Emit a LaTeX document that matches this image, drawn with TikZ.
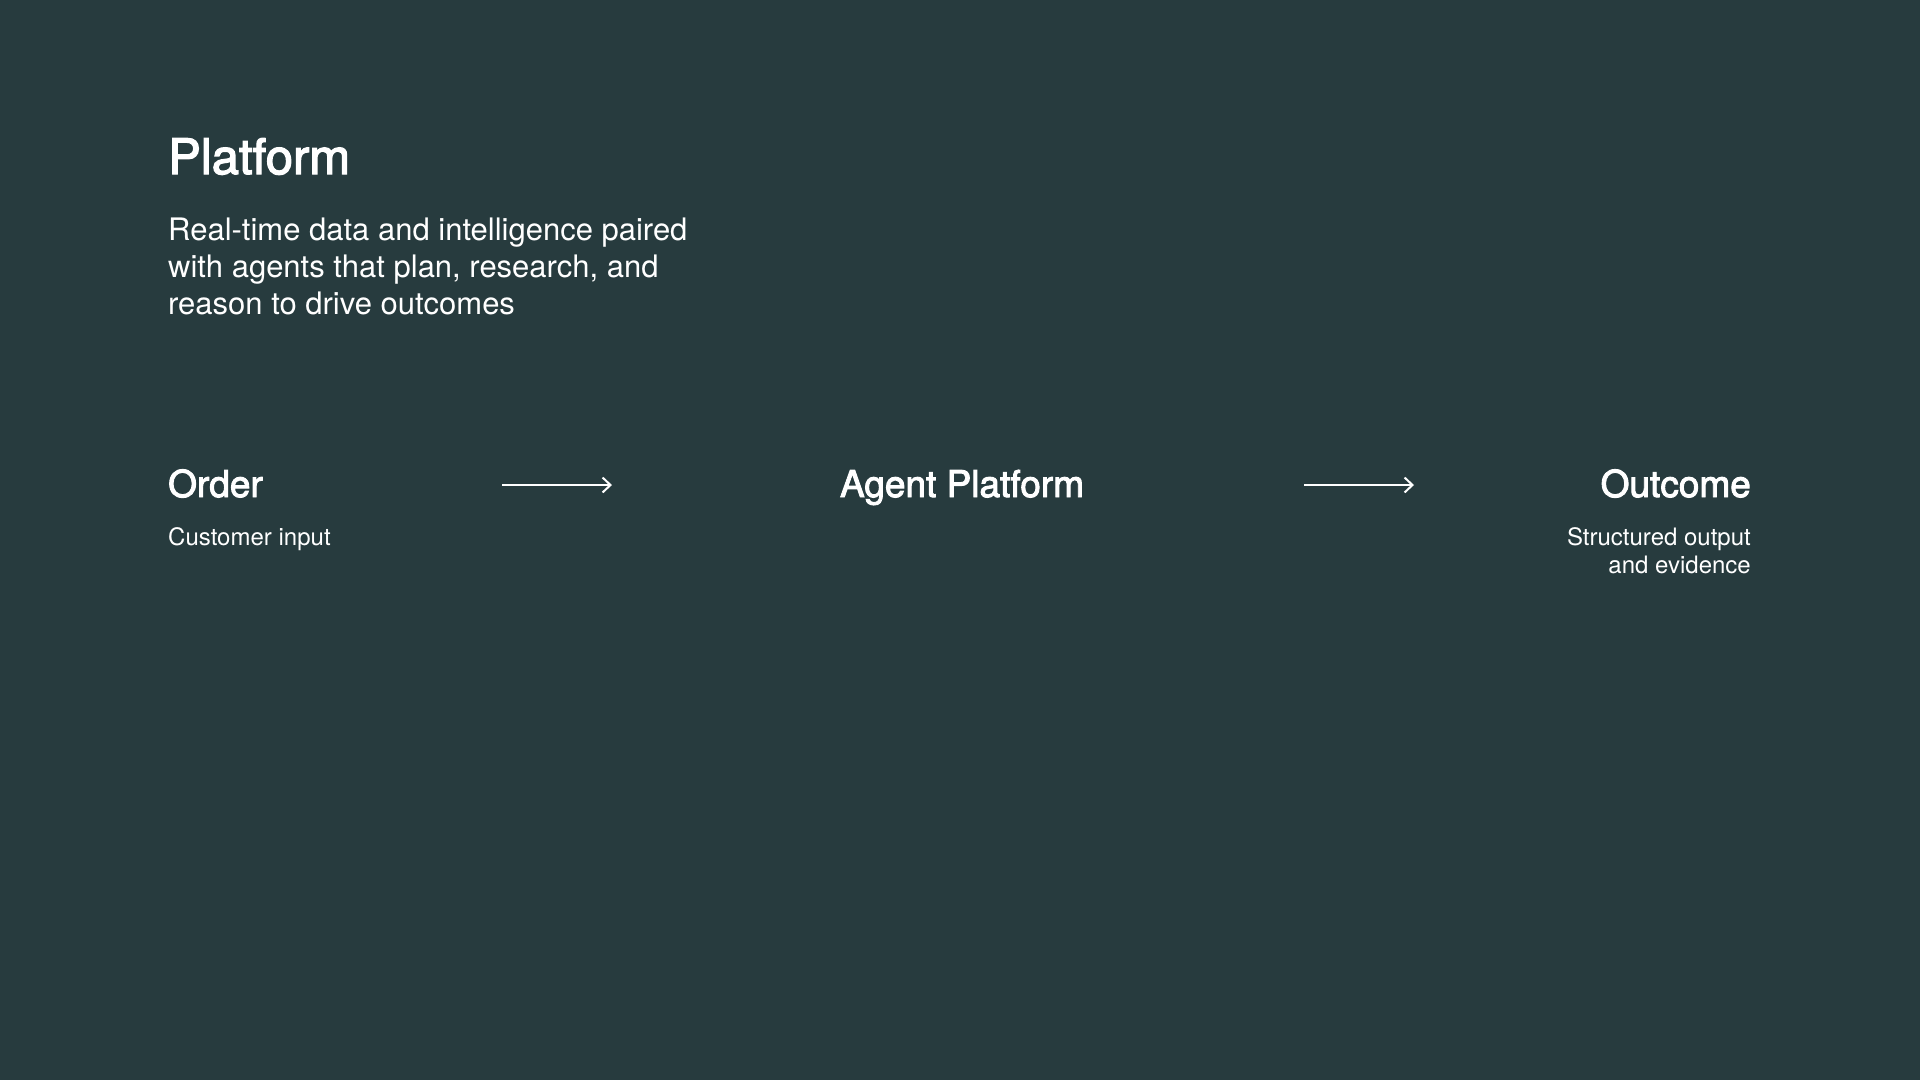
\documentclass[tikz,border=0pt]{standalone}
\usepackage{fontspec}
\setmainfont{TeX Gyre Heros}
\newfontface\medium[FakeBold=2.5]{TeX Gyre Heros}
\usetikzlibrary{arrows.meta}
\definecolor{slate}{RGB}{39,59,62}

\begin{document}
\begin{tikzpicture}[x=1pt, y=-1pt]
		\tikzstyle {title} = [inner sep=0, white, font=\medium\fontsize{49}{56}\selectfont]
		\tikzstyle {lead} = [inner sep=0, white, align=left, font=\fontsize{31}{37}\selectfont]
		\tikzstyle {heading} = [inner sep=0, white, font=\medium\fontsize{37}{42}\selectfont]
		\tikzstyle {caption} = [inner sep=0, white, font=\fontsize{24}{28}\selectfont]
		\tikzstyle {flow} = [white, line width=2pt, -{Straight Barb[length=8pt, width=15pt, line width=2pt]}]

		\fill[slate] (0, 0) rectangle (1920, 1080);

		\node[title, anchor=base west] (title) at (168, 174) {Platform};
		\node[lead, anchor=base west] (lead) at (168, 314)
			{Real-time data and intelligence paired\\with agents that plan, research, and\\reason to drive outcomes};

		\node[heading, anchor=base west] (order) at (168, 497) {Order};
		\node[caption, anchor=base west] (orderinfo) at (168, 545) {Customer input};

		\node[heading, anchor=base] (agent) at (962, 497) {Agent Platform};

		\node[heading, anchor=base east] (outcome) at (1751, 497) {Outcome};
		\node[caption, anchor=base east, align=right] (outcomeinfo) at (1751, 573)
			{Structured output\\and evidence};

		\coordinate (in start) at (502, 485);
		\coordinate (in end) at (612, 485);
		\coordinate (out start) at (1304, 485);
		\coordinate (out end) at (1414, 485);

		\draw[flow] (in start) -- (in end);
		\draw[flow] (out start) -- (out end);
\end{tikzpicture}
\end{document}
